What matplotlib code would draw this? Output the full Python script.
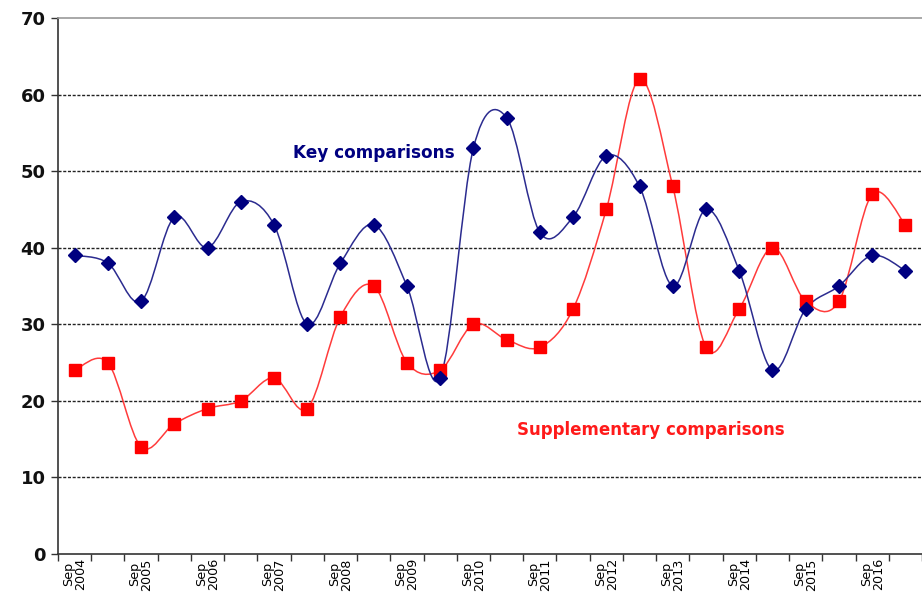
import matplotlib
matplotlib.use("Agg")
import matplotlib.pyplot as plt
from matplotlib.path import Path
from matplotlib.patches import PathPatch
import numpy as np

# ---- data ----
periods = ["Sep 2004", "Mar 2005", "Sep 2005", "Mar 2006", "Sep 2006", "Mar 2007",
           "Sep 2007", "Mar 2008", "Sep 2008", "Mar 2009", "Sep 2009", "Mar 2010",
           "Sep 2010", "Mar 2011", "Sep 2011", "Mar 2012", "Sep 2012", "Mar 2013",
           "Sep 2013", "Mar 2014", "Sep 2014", "Mar 2015", "Sep 2015", "Mar 2016",
           "Sep 2016", "Mar 2017"]
key_comparisons = [39, 38, 33, 44, 40, 46, 43, 30, 38, 43, 35, 23, 53, 57, 42, 44,
                   52, 48, 35, 45, 37, 24, 32, 35, 39, 37]
supplementary_comparisons = [24, 25, 14, 17, 19, 20, 23, 19, 31, 35, 25, 24, 30, 28,
                             27, 32, 45, 62, 48, 27, 32, 40, 33, 33, 47, 43]
y_ticks = [0, 10, 20, 30, 40, 50, 60, 70]


def smooth_path(x, y):
    """Excel-style smoothed line as cubic Bezier segments."""
    pts = np.column_stack([x, y]).astype(float)
    n = len(pts)
    verts = [pts[0]]
    codes = [Path.MOVETO]
    for i in range(n - 1):
        p0 = pts[i - 1] if i > 0 else pts[i]
        p1 = pts[i]
        p2 = pts[i + 1]
        p3 = pts[i + 2] if i + 2 < n else pts[i + 1]
        c1 = p1 + (p2 - p0) / 6.0
        c2 = p2 - (p3 - p1) / 6.0
        verts += [c1, c2, p2]
        codes += [Path.CURVE4] * 3
    return Path(verts, codes)


fig = plt.figure(figsize=(9.22, 6.0), dpi=100)
ax = fig.add_axes([58 / 922, 1 - 554 / 600, 1 - 58 / 922, (554 - 18) / 600])

x = np.arange(len(periods))

# gridlines
for v in y_ticks[1:-1]:
    ax.axhline(v, color="#222222", lw=1.0, ls=(0, (2.2, 1.2)), zorder=1)

# smoothed lines
ax.add_patch(PathPatch(smooth_path(x, supplementary_comparisons), fill=False,
                       edgecolor="#ff3b3b", lw=1.1, zorder=2))
ax.add_patch(PathPatch(smooth_path(x, key_comparisons), fill=False,
                       edgecolor="#2b2b8f", lw=1.1, zorder=3))

# markers
ax.plot(x, supplementary_comparisons, ls="none", marker="s", ms=9.0,
        mfc="#ff0000", mec="#ff0000", zorder=4)
ax.plot(x, key_comparisons, ls="none", marker="D", ms=7.5,
        mfc="#000080", mec="#000080", zorder=5)

# annotations
fig.text(293 / 922, 1 - 153 / 600, "Key comparisons", color="#000080",
         fontsize=12.2, fontweight="bold", va="center", ha="left")
fig.text(517 / 922, 1 - 430 / 600, "Supplementary comparisons", color="#ff1a1a",
         fontsize=12.0, fontweight="bold", va="center", ha="left")

# axes
ax.set_ylim(0, 70)
ax.set_xlim(-0.5, -0.5 + (922 - 58) / 33.64)
ax.set_yticks(y_ticks)
ax.set_yticklabels([str(v) for v in y_ticks], fontsize=13, fontweight="bold",
                   color="#111111")
ax.tick_params(axis="y", length=5, width=1, color="#333333", pad=4)

ax.set_xticks(np.arange(len(periods) + 1) - 0.5)
ax.set_xticklabels([])
ax.tick_params(axis="x", length=5, width=1, color="#333333")
lab_pos = [i for i, p in enumerate(periods) if p.startswith("Sep")]
ax.set_xticks(lab_pos, minor=True)
ax.set_xticklabels([periods[i].replace(" ", "\n") for i in lab_pos], minor=True,
                   rotation=90, fontsize=9.2, linespacing=0.9, va="top", ha="center")
ax.tick_params(axis="x", which="minor", length=0, pad=3)

for s in ["left", "bottom"]:
    ax.spines[s].set_color("#333333")
    ax.spines[s].set_linewidth(1.2)
ax.spines["top"].set_color("#999999")
ax.spines["top"].set_linewidth(1.2)
ax.spines["right"].set_visible(False)

fig.savefig("out.png", dpi=100)
